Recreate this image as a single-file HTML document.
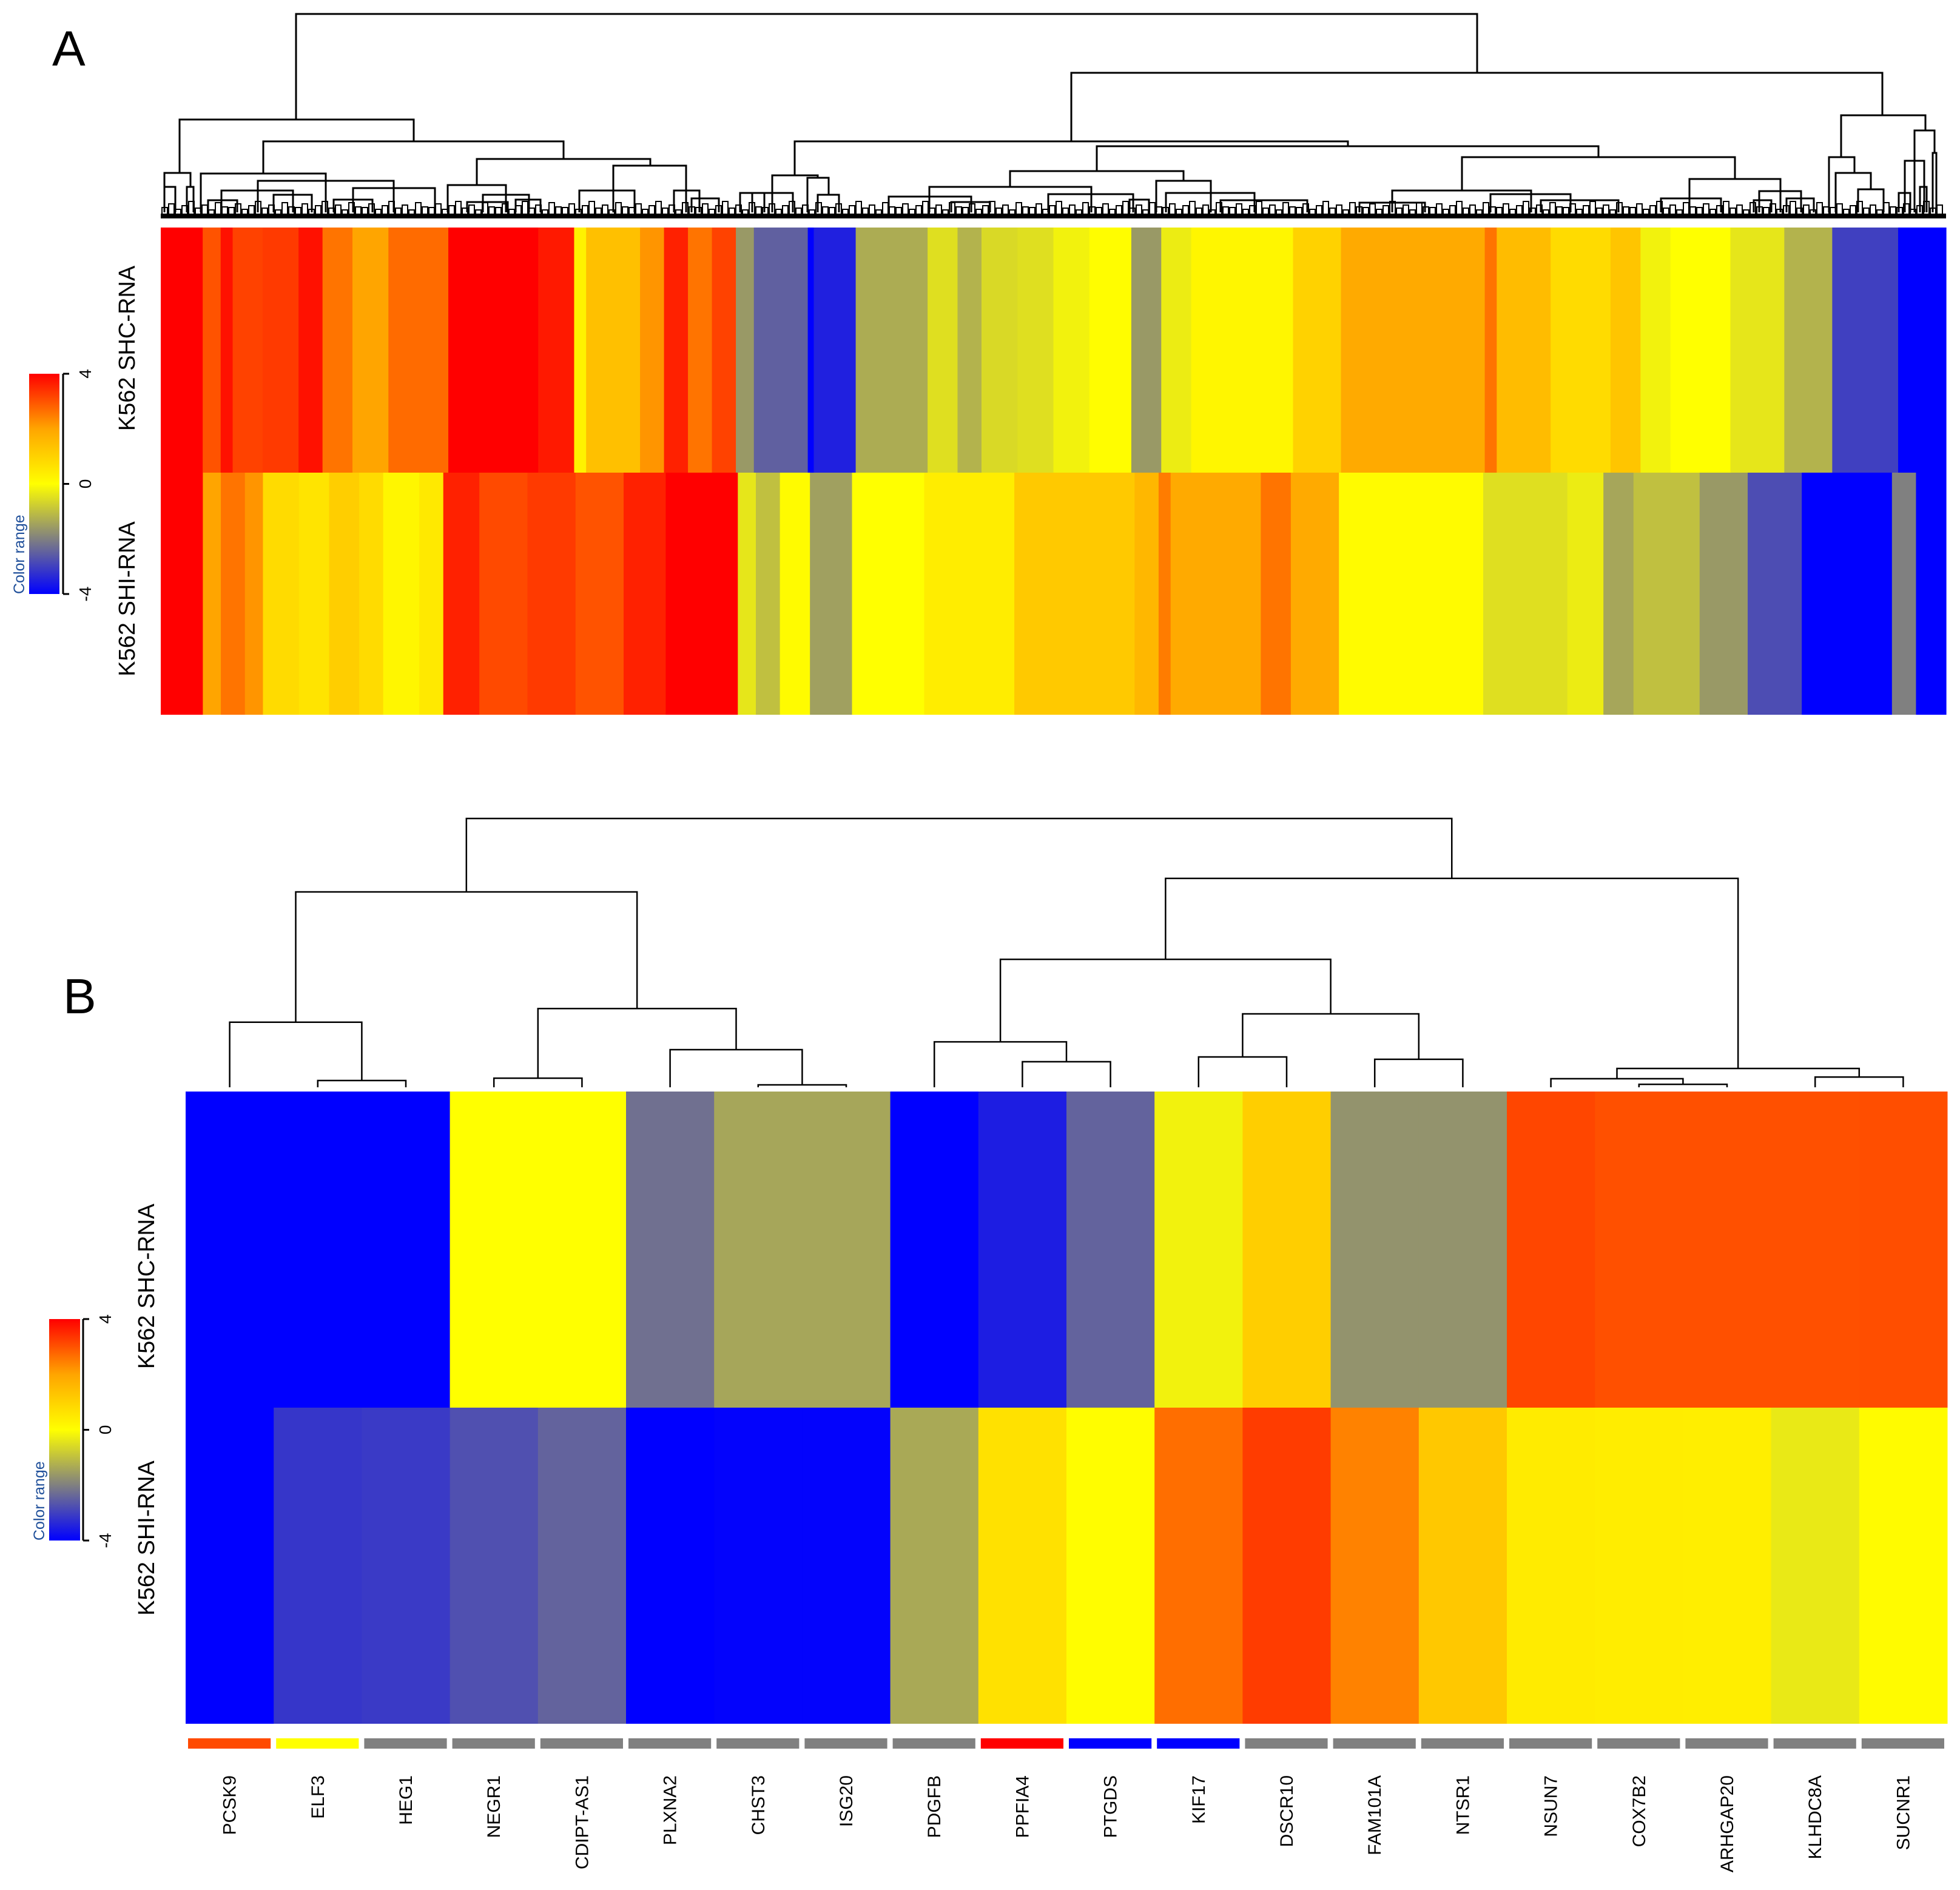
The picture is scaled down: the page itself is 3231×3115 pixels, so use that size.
<!DOCTYPE html>
<html><head><meta charset="utf-8">
<style>
html,body{margin:0;padding:0;background:#fff;}
svg{display:block;font-family:"Liberation Sans",Arial,sans-serif;}
</style></head>
<body>
<svg id="fig" width="3231" height="3115" viewBox="0 0 3231 3115" xmlns="http://www.w3.org/2000/svg">
<defs>
<linearGradient id="cgrad" x1="0" y1="1" x2="0" y2="0">
<stop offset="0" stop-color="#0000ff"/><stop offset="0.25" stop-color="#808080"/><stop offset="0.5" stop-color="#ffff00"/><stop offset="0.75" stop-color="#ffa500"/><stop offset="1" stop-color="#ff0000"/>
</linearGradient>
</defs>
<text x="86" y="108" font-size="82">A</text>
<text x="104" y="1670" font-size="82">B</text>
<g id="gA"></g>
<g id="gB"></g>
</svg>
<script>
// ---------- Panel A data (runs of [value, columnCount]) ----------
const shcRunsA = [[4,7],[3.0,3],[3.8,2],[3.2,5],[3.3,6],[3.8,4],[2.6,5],[2.0,6],[2.7,10],[4,15],[3.7,6],[0.3,2],[1.4,9],[2.2,4],[3.6,4],[2.6,4],[3.2,4],[-1.6,3],[-2.5,9],[-4,1],[-3.5,7],[-1.3,12],[-0.5,5],[-1.2,4],[-0.6,6],[-0.5,6],[-0.2,6],[0.05,7],[-1.6,5],[-0.3,5],[0.2,17],[1.0,8],[1.9,24],[2.6,2],[1.5,9],[0.8,10],[1.3,5],[-0.2,5],[0,10],[-0.4,9],[-1.2,8],[-3,11],[-4,8]];
const shiRunsA = [[4,7],[2.0,3],[2.6,4],[2.2,3],[0.8,6],[0.6,5],[1.1,5],[0.8,4],[0.2,6],[0.5,4],[3.6,6],[3.1,8],[3.3,8],[3.0,8],[3.6,7],[4,12],[-0.4,3],[-1.0,4],[0.1,5],[-1.5,7],[0,12],[0.4,15],[1.2,20],[1.6,4],[2.5,2],[1.9,15],[2.6,5],[1.9,8],[0.1,24],[-0.5,14],[-0.3,6],[-1.4,5],[-1.0,11],[-1.6,8],[-2.8,9],[-4,15],[-2,4],[-4,5]];
// ---------- Panel B data ----------
const genes = ["PCSK9","ELF3","HEG1","NEGR1","CDIPT-AS1","PLXNA2","CHST3","ISG20","PDGFB","PPFIA4","PTGDS","KIF17","DSCR10","FAM101A","NTSR1","NSUN7","COX7B2","ARHGAP20","KLHDC8A","SUCNR1"];
const shcB = [-4,-4,-4,0,0,-2.25,-1.4,-1.4,-4,-3.55,-2.45,-0.2,1.1,-1.7,-1.7,3.15,3.03,3.03,3.03,3.05];
const shiB = [-4,-3.15,-3.1,-2.75,-2.45,-4,-3.95,-3.95,-1.35,0.67,0.05,2.67,3.27,2.42,1.22,0.44,0.4,0.38,-0.35,0.1];
const stripCat = ["orange","yellow","gray","gray","gray","gray","gray","gray","gray","red","blue","blue","gray","gray","gray","gray","gray","gray","gray","gray"];
// linkage: [childA, childB, height]; leaves 0..19, nodes 20+
const linkB = [[1,2,0.25],[0,20,2.42],[3,4,0.34],[6,7,0.09],[5,23,1.40],[22,24,2.93],[21,25,7.27],[9,10,0.95],[8,27,1.69],[11,12,1.13],[13,14,1.04],[29,30,2.73],[28,31,4.76],[16,17,0.11],[15,33,0.32],[18,19,0.38],[34,35,0.70],[32,36,7.77],[26,37,10.0]];
const legendTicks = [4,0,-4];

const NS="http://www.w3.org/2000/svg";
function mk(tag,attrs,parent){const e=document.createElementNS(NS,tag);for(const k in attrs)e.setAttribute(k,attrs[k]);parent.appendChild(e);return e;}
const stops=[[-4,[0,0,255]],[-2,[128,128,128]],[0,[255,255,0]],[2,[255,165,0]],[4,[255,0,0]]];
function col(v){v=Math.max(-4,Math.min(4,v));for(let i=0;i<stops.length-1;i++){const a=stops[i],b=stops[i+1];if(v<=b[0]){const t=(v-a[0])/(b[0]-a[0]);const c=a[1].map((x,j)=>Math.round(x+(b[1][j]-x)*t));return `rgb(${c[0]},${c[1]},${c[2]})`;}}return "rgb(255,0,0)";}
const catColor={orange:"#ff4a00",yellow:"#ffff00",gray:"#808080",red:"#ff0000",blue:"#0000ff"};

const gA=document.getElementById('gA'), gB=document.getElementById('gB');

// ---------- Panel A heatmap ----------
const A={x0:265,x1:3208,y0:375,ym:779,y1:1178};
function drawRuns(runs,y0,y1,name){
  const n=runs.reduce((s,r)=>s+r[1],0); const w=(A.x1-A.x0)/n; let i=0;
  runs.forEach(r=>{const el=mk('rect',{x:A.x0+i*w,y:y0,width:r[1]*w+0.6,height:y1-y0,fill:col(r[0])},gA);
    
    
    i+=r[1];});
}
drawRuns(shcRunsA,A.y0,A.ym,'heatmap-a-shc-cell');
drawRuns(shiRunsA,A.ym,A.y1,'heatmap-a-shi-cell');

// Panel A dendrogram (structure lines)
const dA=mk('g',{stroke:'#000','stroke-width':3,fill:'none'},gA);


const bracketsA=[[488,2435,23,197,120],[296,682,197,285,233],[434,929,233,286,262],[331,537,286,350,350],[786,1072,262,305,273],[738,834,305,350,350],[1011,1131,273,350,350],
[1766,3103,120,233,190],[1310,2222,233,289,241],[1273,1348,289,350,293],[1808,2635,241,282,259],[1665,1951,282,308,298],[1532,1799,308,350,350],[1906,1996,298,350,350],[2410,2860,259,314,295],[2295,2524,314,350,350],[2785,2935,295,350,350],[3035,3174,190,259,215],[3015,3057,259,350,285],[3156,3189,215,350,252],
[271,314,285,308,308],[271,289,308,350,350],[308,319,308,350,350],[425,649,298,350,350],[365,483,314,350,350],[582,717,310,350,350],[343,391,330,350,350],[451,514,321,350,350],[550,614,329,350,350],[796,872,321,350,350],[770,837,333,350,350],[850,891,329,350,350],[955,1046,314,350,350],[1111,1153,314,350,350],[1140,1185,327,350,350],[1220,1260,318,350,350],
[1240,1307,318,350,350],[1331,1366,293,350,321],[1348,1383,321,350,350],[1465,1601,324,350,350],[1728,1868,320,350,350],[1568,1632,333,350,350],[1922,2068,318,350,350],[2012,2155,330,350,350],[1862,1894,329,350,350],
[2241,2349,334,350,350],[2457,2589,320,350,350],[2540,2668,330,350,350],[2738,2837,327,350,350],[2900,2969,315,350,350],[2891,2920,330,350,350],[2945,2990,327,350,350],[3026,3084,285,350,312],[3063,3105,312,350,350],[3140,3172,265,350,350],[3186,3192,252,350,350],[3130,3149,318,350,350],[3165,3176,308,350,350]];
bracketsA.forEach(b=>{mk('path',{d:`M${b[0]},${b[3]}V${b[2]}H${b[1]}V${b[4]}`},dA);});
// leaf-level fuzz
const fuzzH=[8,14,5,11,18,7,12,4,16,9];
let fi=0;
for(let x=A.x0+2;x<A.x1-4;x+=11){const h=fuzzH[fi%fuzzH.length];fi++;mk('path',{d:`M${x},360V${350-h}H${x+9}V360`,'stroke-width':2},dA);}
mk('rect',{x:A.x0,y:352,width:A.x1-A.x0,height:8,fill:'#000',stroke:'none'},dA);

// ---------- Panel B ----------
const B={x0:306,x1:3210,y0:1799,ym:2320,y1:2841,leafY:1792,hScale:44.3};
const cw=(B.x1-B.x0)/genes.length;
genes.forEach((g,i)=>{
  const x=B.x0+i*cw;
  const r1=mk('rect',{x:x,y:B.y0,width:cw+0.5,height:B.ym-B.y0,fill:col(shcB[i])},gB);
  
  
  const r2=mk('rect',{x:x,y:B.ym,width:cw+0.5,height:B.y1-B.ym,fill:col(shiB[i])},gB);
  
  
  const s=mk('rect',{x:x+4,y:2865,width:cw-9,height:17,fill:catColor[stripCat[i]]},gB);
  
  
  const cx=x+cw/2+10;
  const t=mk('text',{x:cx,y:2926,'font-size':30,'text-anchor':'end',transform:`rotate(-90 ${cx} 2926)`},gB);
  
  
  t.textContent=g;
});
// dendrogram B from linkage
const dB=mk('g',{stroke:'#000','stroke-width':2.5,fill:'none'},gB);


const nodeX=[],nodeY=[];
genes.forEach((g,i)=>{nodeX[i]=B.x0+(i+0.5)*cw;nodeY[i]=B.leafY;});
linkB.forEach((m,k)=>{
  const a=m[0],b=m[1],y=B.leafY-m[2]*B.hScale,id=genes.length+k;
  mk('path',{d:`M${nodeX[a]},${nodeY[a]}V${y}H${nodeX[b]}V${nodeY[b]}`},dB);
  nodeX[id]=(nodeX[a]+nodeX[b])/2;nodeY[id]=y;
});

// ---------- Row labels ----------
function rowLabel(parent,txt,x,y,name){const t=mk('text',{x:x,y:y,'font-size':38,'text-anchor':'middle',transform:`rotate(-90 ${x} ${y})`},parent);
  t.textContent=txt;}
rowLabel(gA,'K562 SHC-RNA',222,574,'row-label-shc-a');
rowLabel(gA,'K562 SHI-RNA',222,987,'row-label-shi-a');
rowLabel(gB,'K562 SHC-RNA',254,2120,'row-label-shc-b');
rowLabel(gB,'K562 SHI-RNA',254,2535,'row-label-shi-b');

// ---------- Legends ----------
function legend(parent,x0,x1,yTop,yBot,axX,lblX,crX,name){
  const g=mk('g',{},parent);
  
  
  mk('rect',{x:x0,y:yTop,width:x1-x0,height:yBot-yTop,fill:'url(#cgrad)'},g);
  mk('line',{x1:axX,y1:yTop,x2:axX,y2:yBot,stroke:'#000','stroke-width':3},g);
  legendTicks.forEach(v=>{
    const y=yBot-(v+4)/8*(yBot-yTop);
    mk('line',{x1:axX,y1:y,x2:axX+10,y2:y,stroke:'#000','stroke-width':3},g);
    const t=mk('text',{x:lblX,y:y,'font-size':28,'text-anchor':'middle',transform:`rotate(-90 ${lblX} ${y})`},g);
    
    
    t.textContent=String(v);
  });
  const c=mk('text',{x:crX,y:yBot,'font-size':25,fill:'#1f4f9a','text-anchor':'start',transform:`rotate(-90 ${crX} ${yBot})`},g);
  
  
  c.textContent='Color range';
}
legend(gA,48,98,616,979,104,150,40,'color-legend-a');
legend(gB,81,132,2174,2539,137,183,73,'color-legend-b');
</script>
</body></html>
